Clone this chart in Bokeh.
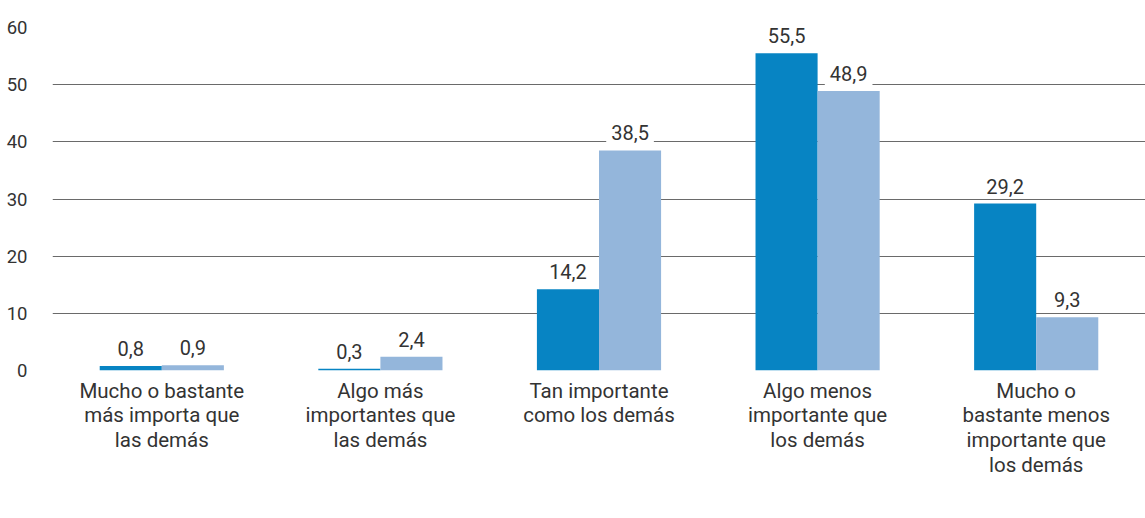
from bokeh.plotting import figure
from bokeh.models import (ColumnDataSource, FactorRange, FixedTicker, Label,
                          Legend, LegendItem)
from bokeh.transform import dodge
from bokeh.embed import file_html
from bokeh.resources import INLINE

# Importancia asignada, en porcentaje
categories = [
    "Mucho o bastante\nmás importa que\nlas demás",
    "Algo más\nimportantes que\nlas demás",
    "Tan importante\ncomo los demás",
    "Algo menos\nimportante que\nlos demás",
    "Mucho o\nbastante menos\nimportante que\nlos demás",
]
profesorado = [0.8, 0.3, 14.2, 55.5, 29.2]
alumnado = [0.9, 2.4, 38.5, 48.9, 9.3]
y_ticks = [0, 10, 20, 30, 40, 50, 60]

COLOR_PROF = "#0784c3"
COLOR_ALUM = "#94b6db"
TEXT = "#333333"
FONT = "Roboto"
BAR_W = 0.284


def fmt(v):
    return f"{v:.1f}".replace(".", ",")


source = ColumnDataSource(data=dict(cat=categories, prof=profesorado, alum=alumnado))

p = figure(
    x_range=FactorRange(*categories, range_padding=0),
    y_range=(0, 60),
    frame_width=1093, frame_height=343,
    output_backend="svg", toolbar_location=None,
    min_border_left=52, min_border_right=0, min_border_top=27, min_border_bottom=0,
    outline_line_color=None,
)

r_prof = p.vbar(x=dodge("cat", -BAR_W / 2, range=p.x_range), top="prof",
                width=BAR_W, source=source, color=COLOR_PROF, line_color=None)
r_alum = p.vbar(x=dodge("cat", BAR_W / 2, range=p.x_range), top="alum",
                width=BAR_W, source=source, color=COLOR_ALUM, line_color=None)

# Value labels on a white box that interrupts the grid lines.
# On the factor range, category i sits at synthetic coordinate i + 0.5.
for values, side in ((profesorado, -1), (alumnado, 1)):
    for i, v in enumerate(values):
        p.add_layout(Label(
            x=i + 0.5 + side * BAR_W / 2, y=v, y_offset=5,
            text=fmt(v), text_align="center", text_baseline="bottom",
            text_font=FONT, text_font_size="20px", text_color=TEXT,
            background_fill_color="white", padding=5,
        ))

# Axes and grid
p.xgrid.grid_line_color = None
p.ygrid.grid_line_color = "#6a6a6a"
p.ygrid.grid_line_width = 1
p.ygrid.ticker = FixedTicker(ticks=y_ticks)

p.yaxis.ticker = FixedTicker(ticks=y_ticks)
p.yaxis.axis_line_color = None
p.yaxis.major_tick_line_color = None
p.yaxis.minor_tick_line_color = None
p.yaxis.major_label_standoff = 19
p.yaxis.major_label_text_font = FONT
p.yaxis.major_label_text_font_size = "18.5px"
p.yaxis.major_label_text_color = TEXT

p.xaxis.axis_line_color = None
p.xaxis.major_tick_line_color = None
p.xaxis.minor_tick_line_color = None
p.xaxis.major_label_standoff = 2
p.xaxis.major_label_text_font = FONT
p.xaxis.major_label_text_font_size = "20.5px"
p.xaxis.major_label_text_color = TEXT
p.xaxis.major_label_text_line_height = 1.03

# Legend in its own panel under the category labels, aligned right
legend = Legend(
    items=[LegendItem(label="Profesorado", renderers=[r_prof]),
           LegendItem(label="Alumnado", renderers=[r_alum])],
    orientation="horizontal", location="right",
    glyph_width=16, glyph_height=16, label_standoff=12, spacing=58,
    padding=0, margin=26, border_line_color=None, background_fill_alpha=0,
    label_text_font=FONT, label_text_font_size="20.5px", label_text_color=TEXT,
)
p.add_layout(legend, "below")

open("out.html", "w").write(file_html(p, INLINE))
